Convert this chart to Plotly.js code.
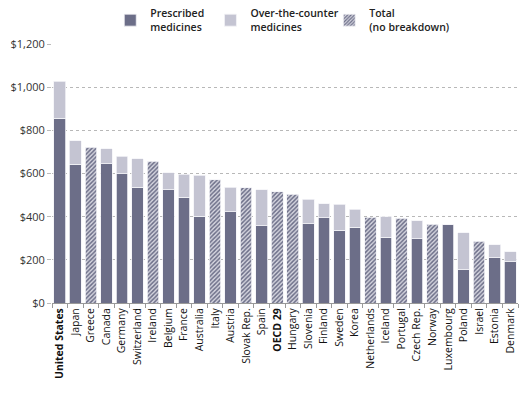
<!DOCTYPE html>
<html><head><meta charset="utf-8">
<script src="https://cdn.plot.ly/plotly-3.0.1.min.js"></script>
<style>html,body{margin:0;padding:0;background:#fff}#chart{width:525px;height:394px}</style>
</head><body><div id="chart"></div>
<script>
const countries = ["United States","Japan","Greece","Canada","Germany","Switzerland","Ireland","Belgium","France","Australia","Italy","Austria","Slovak Rep.","Spain","OECD 29","Hungary","Slovenia","Finland","Sweden","Korea","Netherlands","Iceland","Portugal","Czech Rep.","Norway","Luxembourg","Poland","Israel","Estonia","Denmark"];
const boldLabels = ["United States","OECD 29"];
const prescribed = [857,643,null,646,600,537,null,525,491,403,null,423,null,357,null,null,368,394,336,351,null,305,null,297,null,363,155,null,210,192];
const otc = [171,109,null,68,80,131,null,78,106,188,null,114,null,167,null,null,113,67,121,84,null,95,null,85,null,0,171,null,61,46];
const totalOnly = [null,null,722,null,null,null,657,null,null,null,572,null,534,null,515,503,null,null,null,null,398,null,392,null,365,null,null,285,null,null];
const yTicks = [0,200,400,600,800,1000,1200];
const yTickText = ["$0","$200","$400","$600","$800","$1,000","$1,200"];

const tickText = countries.map(c => boldLabels.includes(c) ? "<b>"+c+"</b>" : c);
const font = "Open Sans, Liberation Sans, sans-serif";
const lineSpec = {color:"#f4f4f8", width:0.8};

const traces = [
  {type:"bar", name:"Prescribed<br>medicines", x:countries, y:prescribed, legend:"legend",
   marker:{color:"#6c6e88", line:lineSpec}},
  {type:"bar", name:"Over-the-counter<br>medicines", x:countries, y:otc, legend:"legend2",
   marker:{color:"#c4c4d2", line:lineSpec}},
  {type:"bar", name:"Total<br>(no breakdown)", x:countries, y:totalOnly, legend:"legend3",
   marker:{color:"#d6d6e0", line:lineSpec,
     pattern:{shape:"/", fgcolor:"#6c6e88", bgcolor:"#d6d6e0", size:3, solidity:0.5}}}
];

const legendBase = {orientation:"h", xanchor:"left", yref:"container", y:1, yanchor:"top",
  font:{family:font, size:10.5, color:"#222", weight:600},
  itemwidth:30, bgcolor:"rgba(0,0,0,0)"};

const layout = {
  width:525, height:394,
  margin:{l:52, r:7, t:44, b:91, autoexpand:false},
  paper_bgcolor:"#fff", plot_bgcolor:"#fff",
  barmode:"stack", bargap:0.25,
  font:{family:font, size:11, color:"#333"},
  showlegend:true,
  legend:Object.assign({}, legendBase, {x:0.125}),
  legend2:Object.assign({}, legendBase, {x:0.34}),
  legend3:Object.assign({}, legendBase, {x:0.595}),
  xaxis:{type:"category", tickmode:"array", tickvals:countries, ticktext:tickText,
    tickangle:-90, tickfont:{family:font, size:10.5, color:"#111"},
    showline:true, linecolor:"#999", linewidth:1,
    ticks:"outside", tickson:"boundaries", ticklen:4, tickcolor:"#999",
    showgrid:false, range:[-0.5, 29.5], fixedrange:true},
  yaxis:{range:[0,1200], tickmode:"array", tickvals:yTicks, ticktext:yTickText,
    tickfont:{family:font, size:11, color:"#333"},
    showgrid:true, gridcolor:"#b8b8b8", griddash:"dot", gridwidth:1,
    showline:false, zeroline:false, ticks:"outside", ticklen:4, tickcolor:"#bbb",
    fixedrange:true}
};

Plotly.newPlot("chart", traces, layout, {displayModeBar:false, staticPlot:true});
</script></body></html>
